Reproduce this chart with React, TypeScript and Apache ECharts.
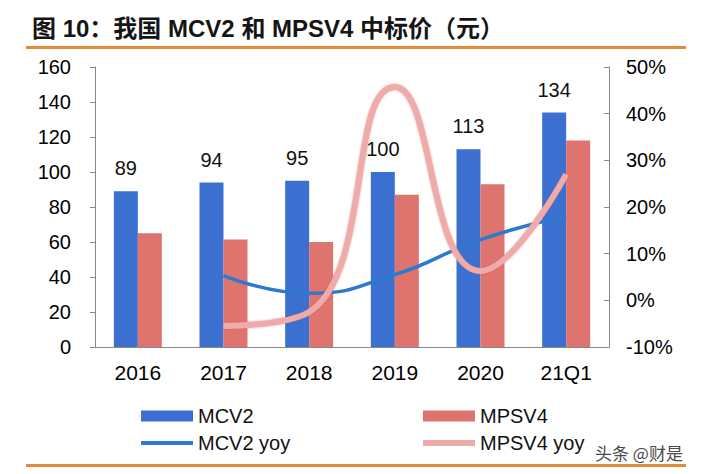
import React, { useEffect, useRef } from "react";
import * as echarts from "echarts";

// Categories and values
const categories = ["2016", "2017", "2018", "2019", "2020", "21Q1"];
const mcv2Price = [89, 94, 95, 100, 113, 134];
const mpsv4Price = [65, 61.5, 60, 87, 93, 118];
// Year-on-year growth, percent (no value for the first year)
const mcv2Yoy = [null, 5.3, 1.5, 5.5, 13, 18];
const mpsv4Yoy = [null, -5.5, -2.5, 45.7, 6.3, 27];

const leftTicks = { min: 0, max: 160, interval: 20 };
const rightTicks = { min: -10, max: 50, interval: 10 };

const TITLE = "图 10：我国 MCV2 和 MPSV4 中标价（元）";
const WATERMARK = "头条 @财是";

const FONT = '"Liberation Sans", Arial, "Noto Sans CJK SC", sans-serif';

const BLUE = "#3B70D1";
const RED = "#DF736E";
const BLUE_LINE = "#2C79CF";
const PINK_LINE = "#EFAAAA";
const ORANGE = "#E38A3B";

// One legend entry, placed on its own so the 2x2 layout lines up
function legendItem(name: string, left: number, top: number, height: number) {
  return {
    data: [{ name, icon: "rect" }],
    left,
    top,
    itemWidth: 52,
    itemHeight: height,
    textStyle: { fontSize: 20, color: "#111", fontFamily: FONT },
  };
}

export default function App() {
  const ref = useRef<HTMLDivElement | null>(null);

  useEffect(() => {
    if (!ref.current) return;
    const chart = echarts.init(ref.current, null, { renderer: "svg" });

    const axisLine = { show: true, lineStyle: { color: "#888888", width: 1 } };

    chart.setOption({
      animation: false,
      backgroundColor: "#ffffff",
      textStyle: { fontFamily: FONT },
      title: {
        text: TITLE,
        left: 27,
        top: 11,
        textStyle: {
          fontFamily: '"Liberation Sans", "Noto Sans CJK SC", sans-serif',
          fontSize: 24,
          fontWeight: "bold",
          color: "#151515",
        },
      },
      grid: { left: 95, right: 93, top: 67, bottom: 127 },
      legend: [
        legendItem("MCV2", 136, 401, 11),
        legendItem("MPSV4", 418, 401, 11),
        legendItem("MCV2 yoy", 136, 428, 4),
        legendItem("MPSV4 yoy", 418, 428, 6),
      ],
      xAxis: {
        type: "category",
        data: categories,
        axisLine,
        axisTick: { show: false },
        axisLabel: { fontSize: 21, color: "#000", margin: 15, fontFamily: FONT },
      },
      yAxis: [
        {
          type: "value",
          ...leftTicks,
          axisLine,
          axisTick: { show: true, length: 5, lineStyle: { color: "#888888" } },
          splitLine: { show: false },
          axisLabel: { fontSize: 20, color: "#000", margin: 24, fontFamily: FONT },
        },
        {
          type: "value",
          ...rightTicks,
          position: "right",
          axisLine,
          axisTick: { show: true, inside: true, length: 5, lineStyle: { color: "#888888" } },
          splitLine: { show: false },
          axisLabel: {
            fontSize: 20,
            color: "#000",
            margin: 17,
            formatter: "{value}%",
            fontFamily: FONT,
          },
        },
      ],
      series: [
        {
          name: "MCV2",
          type: "bar",
          data: mcv2Price,
          barWidth: 24,
          barGap: "0%",
          itemStyle: { color: BLUE },
          label: {
            show: true,
            position: "top",
            distance: 13,
            fontSize: 20,
            color: "#111",
            fontFamily: FONT,
          },
        },
        {
          name: "MPSV4",
          type: "bar",
          data: mpsv4Price,
          barWidth: 24,
          barGap: "0%",
          itemStyle: { color: RED },
        },
        {
          name: "MCV2 yoy",
          type: "line",
          yAxisIndex: 1,
          data: mcv2Yoy,
          smooth: true,
          symbol: "none",
          lineStyle: { color: BLUE_LINE, width: 3.5 },
          itemStyle: { color: BLUE_LINE },
        },
        {
          name: "MPSV4 yoy",
          type: "line",
          yAxisIndex: 1,
          data: mpsv4Yoy,
          smooth: true,
          symbol: "none",
          lineStyle: {
            color: PINK_LINE,
            width: 6,
            shadowColor: "rgba(205,90,90,0.55)",
            shadowBlur: 2,
          },
          itemStyle: { color: PINK_LINE },
        },
      ],
      graphic: [
        {
          type: "rect",
          shape: { x: 26, y: 46, width: 660, height: 3 },
          style: { fill: ORANGE },
          silent: true,
        },
        {
          type: "rect",
          shape: { x: 26, y: 464, width: 660, height: 3 },
          style: { fill: ORANGE },
          silent: true,
        },
        {
          type: "text",
          x: 595,
          y: 452,
          style: {
            text: WATERMARK,
            fontSize: 17,
            fill: "#4a4a4a",
            fontFamily: '"Noto Sans CJK SC", sans-serif',
            verticalAlign: "middle",
          },
          silent: true,
        },
      ],
    });

    return () => chart.dispose();
  }, []);

  return (
    <div
      ref={ref}
      style={{ position: "fixed", left: 0, top: 0, width: 702, height: 474 }}
    />
  );
}
